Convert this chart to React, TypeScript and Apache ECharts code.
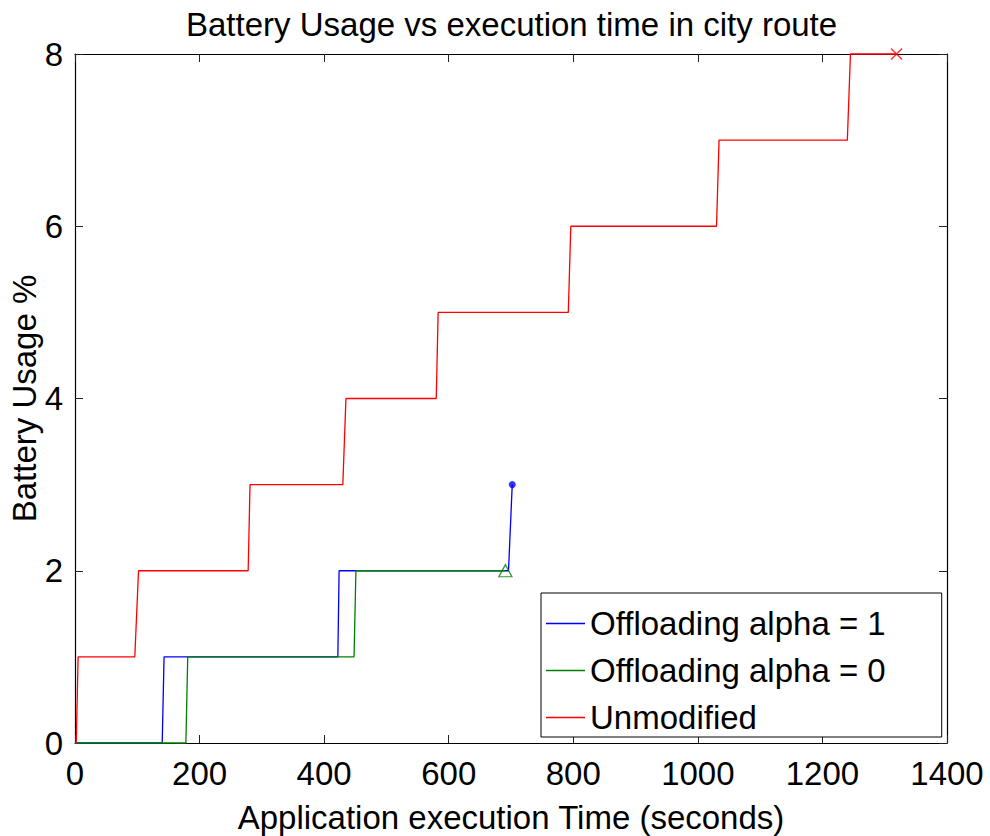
import React, { useEffect, useRef } from "react";
import * as echarts from "echarts";

// Step traces of battery usage (%) against application execution time (s)
const alpha1Time = [0, 140, 143, 422, 424, 696, 702];
const alpha1Usage = [0, 0, 1, 1, 2, 2, 3];

const alpha0Time = [0, 178, 181, 448, 451, 691];
const alpha0Usage = [0, 0, 1, 1, 2, 2];

const unmodTime = [2, 5, 96, 102, 278, 281, 430, 435, 580, 583, 792, 796, 1030, 1034, 1240, 1245, 1319];
const unmodUsage = [0, 1, 1, 2, 2, 3, 3, 4, 4, 5, 5, 6, 6, 7, 7, 8, 8];

const seriesNames = ["Offloading alpha = 1", "Offloading alpha = 0", "Unmodified"];
const seriesColors = ["#0000ff", "#008000", "#ff0000"];

const xTicks = [0, 200, 400, 600, 800, 1000, 1200, 1400];
const yTicks = [0, 2, 4, 6, 8];

const FONT = "'Liberation Sans', Arial, Helvetica, sans-serif";
const FS = 33;

const zip = (xs: number[], ys: number[]) => xs.map((x, i) => [x, ys[i]]);
const last = (xs: number[], ys: number[]) => [[xs[xs.length - 1], ys[ys.length - 1]]];

export default function App() {
  const ref = useRef<HTMLDivElement>(null);

  useEffect(() => {
    if (!ref.current) return;
    const chart = echarts.init(ref.current, null, { renderer: "svg" });

    const xMin = xTicks[0];
    const xMax = xTicks[xTicks.length - 1];
    const xStep = xTicks[1] - xTicks[0];
    const yMin = yTicks[0];
    const yMax = yTicks[yTicks.length - 1];
    const yStep = yTicks[1] - yTicks[0];

    const baseAxis = {
      axisLine: { show: true, onZero: false, lineStyle: { color: "#000", width: 1.2 } },
      axisTick: { show: true, inside: true, length: 8, lineStyle: { color: "#222", width: 1 } },
      splitLine: { show: false },
    };

    const plain = (v: number) => String(v);

    const lineSeries = (name: string, color: string, data: number[][], z: number) => ({
      name,
      type: "line",
      data,
      showSymbol: false,
      symbol: "none",
      clip: false,
      z,
      lineStyle: { color, width: 1.3 },
      itemStyle: { color },
    });

    const option = {
      animation: false,
      backgroundColor: "#fff",
      textStyle: { fontFamily: FONT },
      title: {
        text: "Battery Usage vs execution time in city route",
        left: 181,
        top: 3,
        textStyle: { fontFamily: FONT, fontSize: FS, fontWeight: "normal", color: "#000" },
      },
      grid: {
        left: 75,
        top: 54,
        width: 872,
        height: 689,
        show: false,
        containLabel: false,
        outerBoundsMode: "none",
      },
      legend: {
        orient: "vertical",
        left: 541,
        top: 593,
        data: seriesNames,
        icon: "rect",
        itemWidth: 39,
        itemHeight: 1.5,
        itemGap: 14,
        padding: [14, 56, 3, 5],
        backgroundColor: "#fff",
        borderColor: "#000",
        borderWidth: 1,
        textStyle: { fontFamily: FONT, fontSize: FS, color: "#000" },
      },
      xAxis: [
        {
          ...baseAxis,
          type: "value",
          min: xMin,
          max: xMax,
          interval: xStep,
          position: "bottom",
          name: "Application execution Time (seconds)",
          nameLocation: "middle",
          nameGap: 58,
          nameMoveOverlap: false,
          nameTextStyle: { fontFamily: FONT, fontSize: FS, color: "#000" },
          axisLabel: { fontFamily: FONT, fontSize: FS, color: "#000", margin: 14, formatter: plain },
        },
        {
          ...baseAxis,
          type: "value",
          min: xMin,
          max: xMax,
          interval: xStep,
          position: "top",
          axisLabel: { show: false },
        },
      ],
      yAxis: [
        {
          ...baseAxis,
          type: "value",
          min: yMin,
          max: yMax,
          interval: yStep,
          position: "left",
          name: "Battery Usage %",
          nameLocation: "middle",
          nameGap: 34,
          nameMoveOverlap: false,
          nameTextStyle: { fontFamily: FONT, fontSize: FS, color: "#000" },
          axisLabel: { fontFamily: FONT, fontSize: FS, color: "#000", margin: 12, formatter: plain },
        },
        {
          ...baseAxis,
          type: "value",
          min: yMin,
          max: yMax,
          interval: yStep,
          position: "right",
          axisLabel: { show: false },
        },
      ],
      series: [
        lineSeries(seriesNames[0], seriesColors[0], zip(alpha1Time, alpha1Usage), 3),
        lineSeries(seriesNames[1], seriesColors[1], zip(alpha0Time, alpha0Usage), 4),
        lineSeries(seriesNames[2], seriesColors[2], zip(unmodTime, unmodUsage), 5),
        {
          name: "alpha1-end",
          type: "scatter",
          data: last(alpha1Time, alpha1Usage),
          symbol: "circle",
          symbolSize: 7,
          clip: false,
          z: 6,
          itemStyle: { color: seriesColors[0] },
        },
        {
          name: "alpha0-end",
          type: "scatter",
          data: last(alpha0Time, alpha0Usage),
          symbol: "triangle",
          symbolSize: [13, 12],
          clip: false,
          z: 6,
          itemStyle: { color: "rgba(255,255,255,0)", borderColor: seriesColors[1], borderWidth: 1.3 },
        },
        {
          name: "unmod-end",
          type: "scatter",
          data: last(unmodTime, unmodUsage),
          symbol: "path://M0,0 L10,10 M10,0 L0,10",
          symbolSize: 11,
          clip: false,
          z: 6,
          itemStyle: { color: "rgba(255,255,255,0)", borderColor: seriesColors[2], borderWidth: 1.5 },
        },
      ],
    };

    chart.setOption(option as any);
    return () => chart.dispose();
  }, []);

  return (
    <div
      ref={ref}
      style={{ position: "fixed", left: 0, top: 0, width: 990, height: 836, background: "#fff" }}
    />
  );
}
